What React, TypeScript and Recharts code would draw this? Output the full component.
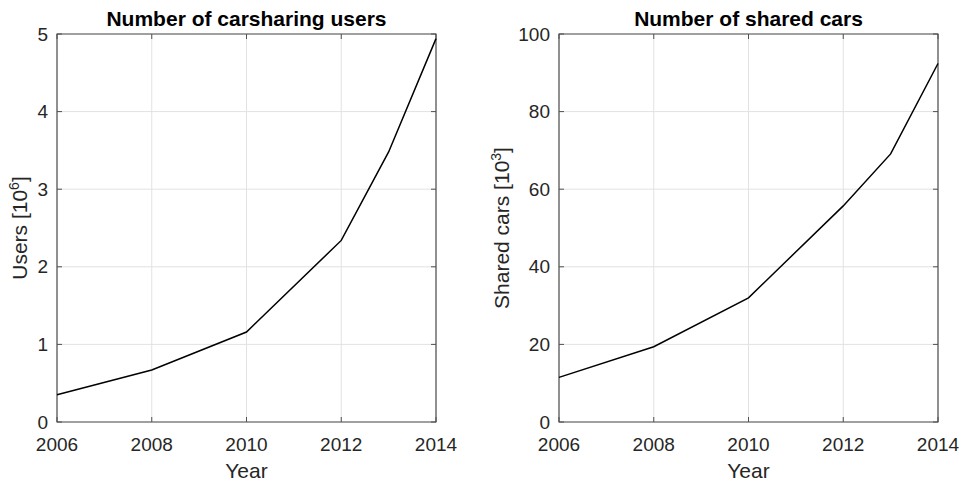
import { LineChart, Line, XAxis, YAxis, CartesianGrid, ReferenceArea } from "recharts";

// Carsharing growth in Germany, 2006–2014
const YEARS = [2006, 2008, 2010, 2012, 2013, 2014];
const USERS_MILLIONS = [0.35, 0.67, 1.16, 2.34, 3.48, 4.94];
const CARS_THOUSANDS = [11.5, 19.4, 32, 55.7, 69.1, 92.4];

const YEAR_TICKS = [2006, 2008, 2010, 2012, 2014];
const USERS_TICKS = [0, 1, 2, 3, 4, 5];
const CARS_TICKS = [0, 20, 40, 60, 80, 100];

const FONT = '"Liberation Sans", Arial, Helvetica, sans-serif';
const AXIS_COLOR = "#262626";
const BOX_COLOR = "#505050";
const GRID_COLOR = "#e2e2e2";

const PLOT_W = 379;
const PLOT_H = 388;
const TICK_LEN = 5;

const usersData = YEARS.map((year, i) => ({ year, value: USERS_MILLIONS[i] }));
const carsData = YEARS.map((year, i) => ({ year, value: CARS_THOUSANDS[i] }));

function YTick(props: any) {
  const { x, y, payload } = props;
  return (
    <g>
      <line x1={x} x2={x + TICK_LEN} y1={y} y2={y} stroke={BOX_COLOR} />
      <line x1={x + PLOT_W - TICK_LEN} x2={x + PLOT_W} y1={y} y2={y} stroke={BOX_COLOR} />
      <text x={x - 9} y={y + 6.5} textAnchor="end" fontSize={19} fontFamily={FONT} fill={AXIS_COLOR}>
        {payload.value}
      </text>
    </g>
  );
}

function XTick(props: any) {
  const { x, y, payload } = props;
  return (
    <g>
      <line x1={x} x2={x} y1={y} y2={y - TICK_LEN} stroke={BOX_COLOR} />
      <line x1={x} x2={x} y1={y - PLOT_H} y2={y - PLOT_H + TICK_LEN} stroke={BOX_COLOR} />
      <text x={x} y={y + 29} textAnchor="middle" fontSize={19} fontFamily={FONT} fill={AXIS_COLOR}>
        {payload.value}
      </text>
    </g>
  );
}

function YearLabel(props: any) {
  const { viewBox } = props;
  return (
    <text
      x={viewBox.x + viewBox.width / 2}
      y={viewBox.y + 56}
      textAnchor="middle"
      fontSize={21}
      fontFamily={FONT}
      fill={AXIS_COLOR}
    >
      Year
    </text>
  );
}

// rotated y-axis title with a power-of-ten superscript
function PowerLabel(props: any) {
  const { viewBox, text, power, shift } = props;
  const cx = viewBox.x + shift;
  const cy = viewBox.y + viewBox.height / 2;
  return (
    <text
      transform={`translate(${cx},${cy}) rotate(-90)`}
      textAnchor="middle"
      fontSize={21}
      fontFamily={FONT}
      fill={AXIS_COLOR}
    >
      <tspan>{text} [10</tspan>
      <tspan dy={-8} fontSize={14}>{power}</tspan>
      <tspan dy={8}>]</tspan>
    </text>
  );
}

type PanelProps = {
  title: string;
  data: { year: number; value: number }[];
  yTicks: number[];
  yLabel: string;
  power: string;
  left: number;
  width: number;
  axisWidth: number;
  labelShift: number;
};

function Panel({ title, data, yTicks, yLabel, power, left, width, axisWidth, labelShift }: PanelProps) {
  const yMax = yTicks[yTicks.length - 1];
  const rightMargin = width - axisWidth - PLOT_W;
  return (
    <div style={{ position: "absolute", left, top: 0, width, height: 484 }}>
      <div
        style={{
          position: "absolute",
          left: axisWidth,
          width: PLOT_W,
          top: 8,
          textAlign: "center",
          fontFamily: FONT,
          fontWeight: "bold",
          fontSize: 21,
          lineHeight: "21px",
          color: "#000",
          whiteSpace: "nowrap",
        }}
      >
        {title}
      </div>
      <LineChart width={width} height={484} data={data} margin={{ top: 34, right: rightMargin, bottom: 0, left: 0 }}>
        <CartesianGrid stroke={GRID_COLOR} />
        <XAxis
          dataKey="year"
          type="number"
          domain={[2006, 2014]}
          ticks={YEAR_TICKS}
          interval={0}
          height={62}
          axisLine={false}
          tickLine={false}
          tickSize={0}
          tickMargin={0}
          tick={<XTick />}
          label={<YearLabel />}
        />
        <YAxis
          type="number"
          domain={[0, yMax]}
          ticks={yTicks}
          interval={0}
          width={axisWidth}
          axisLine={false}
          tickLine={false}
          tickSize={0}
          tickMargin={0}
          tick={<YTick />}
          label={<PowerLabel text={yLabel} power={power} shift={labelShift} />}
        />
        <ReferenceArea x1={2006} x2={2014} y1={0} y2={yMax} fill="none" stroke={BOX_COLOR} strokeWidth={1.2} />
        <Line
          type="linear"
          dataKey="value"
          stroke="#000"
          strokeWidth={1.5}
          dot={false}
          isAnimationActive={false}
        />
      </LineChart>
    </div>
  );
}

export default function App() {
  return (
    <div style={{ position: "absolute", left: 0, top: 0, width: 963, height: 484, background: "#fff" }}>
      <Panel
        title="Number of carsharing users"
        data={usersData}
        yTicks={USERS_TICKS}
        yLabel="Users"
        power="6"
        left={0}
        width={480}
        axisWidth={57}
        labelShift={27}
      />
      <Panel
        title="Number of shared cars"
        data={carsData}
        yTicks={CARS_TICKS}
        yLabel="Shared cars"
        power="3"
        left={480}
        width={483}
        axisWidth={79}
        labelShift={29}
      />
    </div>
  );
}
